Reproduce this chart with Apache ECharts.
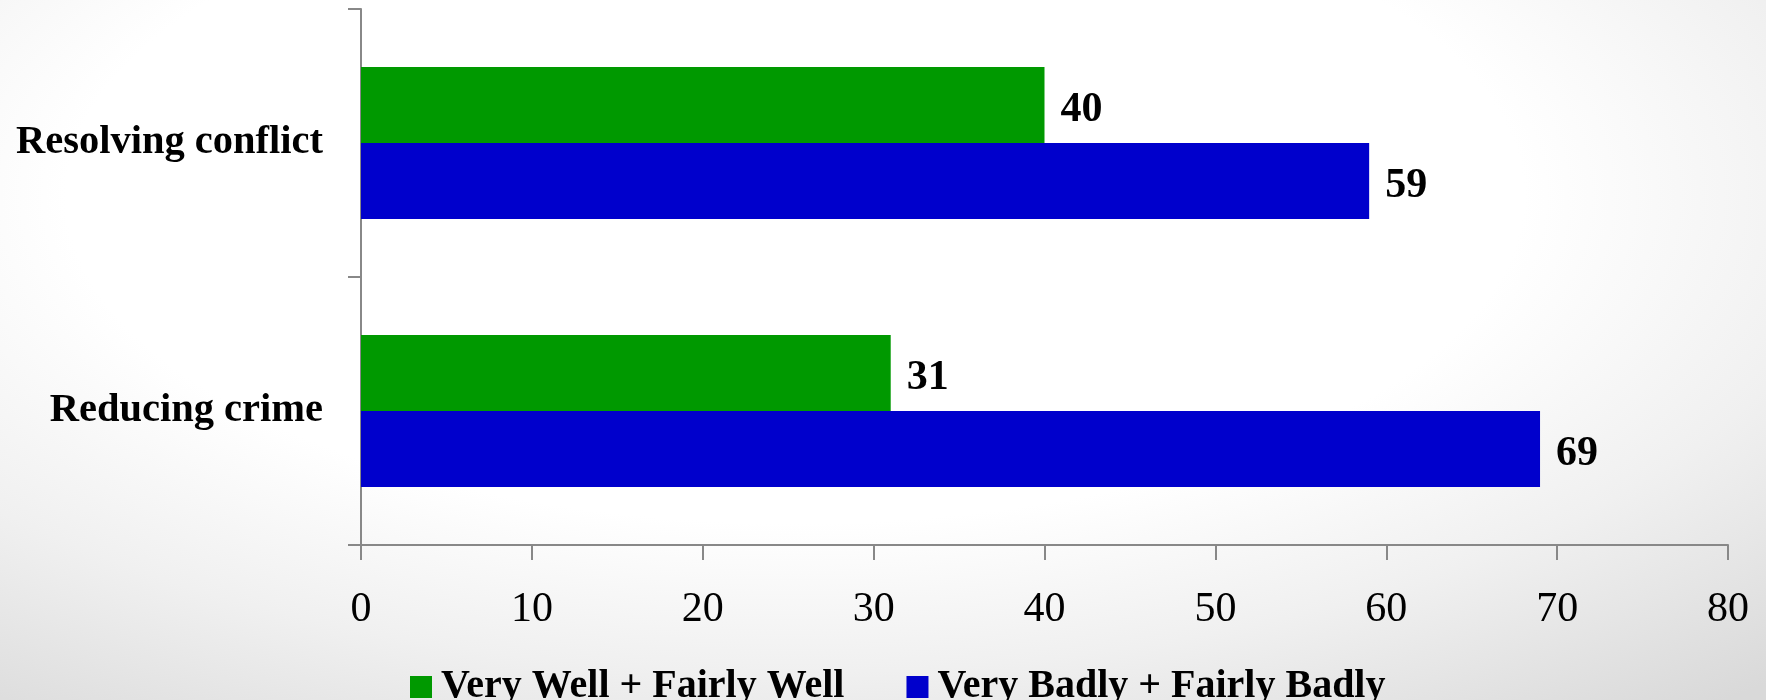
<!DOCTYPE html>
<html>
<head>
<meta charset="utf-8">
<script src="https://cdn.jsdelivr.net/npm/echarts@6/dist/echarts.min.js"></script>
<style>
html,body{margin:0;padding:0;}
body{background: radial-gradient(ellipse 75% 85% at 45% 28%, #ffffff 55%, #f0f0f0 80%, #d9d9d9 110%);}
#chart{width:1766px;height:700px;}
</style>
</head>
<body>
<div id="chart"></div>
<script>
const categories = ['Resolving conflict', 'Reducing crime'];
const seriesNames = ['Very Well + Fairly Well', 'Very Badly + Fairly Badly'];
const wellValues = [40, 31];
const badlyValues = [59, 69];
const xTicks = [0, 10, 20, 30, 40, 50, 60, 70, 80];

const FONT = '"Liberation Serif", "Times New Roman", serif';
const chart = echarts.init(document.getElementById('chart'), null, {renderer: 'canvas'});
const labelStyle = {
  show: true, position: 'right', distance: 16, offset: [0, 5],
  fontFamily: FONT, fontWeight: 'bold', fontSize: 42, color: '#000'
};
chart.setOption({
  backgroundColor: 'transparent',
  animation: false,
  grid: {left: 361, right: 38, top: 9, bottom: 155, containLabel: false},
  legend: {
    data: seriesNames,
    left: 405, top: 662,
    itemWidth: 22, itemHeight: 22, itemGap: 62,
    icon: 'rect',
    textStyle: {fontFamily: FONT, fontWeight: 'bold', fontSize: 40, color: '#000', padding: [0,0,0,4]}
  },
  xAxis: {
    type: 'value', min: xTicks[0], max: xTicks[xTicks.length-1], interval: 10,
    axisLine: {show: true, lineStyle: {color: '#888', width: 2}},
    axisTick: {show: true, length: 15, lineStyle: {color: '#888', width: 2}},
    splitLine: {show: false},
    axisLabel: {margin: 44, fontFamily: FONT, fontSize: 42, color: '#000'}
  },
  yAxis: {
    type: 'category', data: categories, inverse: true,
    axisLine: {show: true, lineStyle: {color: '#888', width: 2}},
    axisTick: {show: true, length: 13, lineStyle: {color: '#888', width: 2}},
    axisLabel: {margin: 38, padding: [8, 0, 0, 0], fontFamily: FONT, fontWeight: 'bold', fontSize: 40.5, color: '#000'}
  },
  series: [
    {name: seriesNames[0], type: 'bar', data: wellValues, barWidth: 76, barGap: '0%',
     itemStyle: {color: '#009900'}, label: labelStyle},
    {name: seriesNames[1], type: 'bar', data: badlyValues, barWidth: 76, barGap: '0%',
     itemStyle: {color: '#0000CC'}, label: labelStyle}
  ]
});
</script>
</body>
</html>
